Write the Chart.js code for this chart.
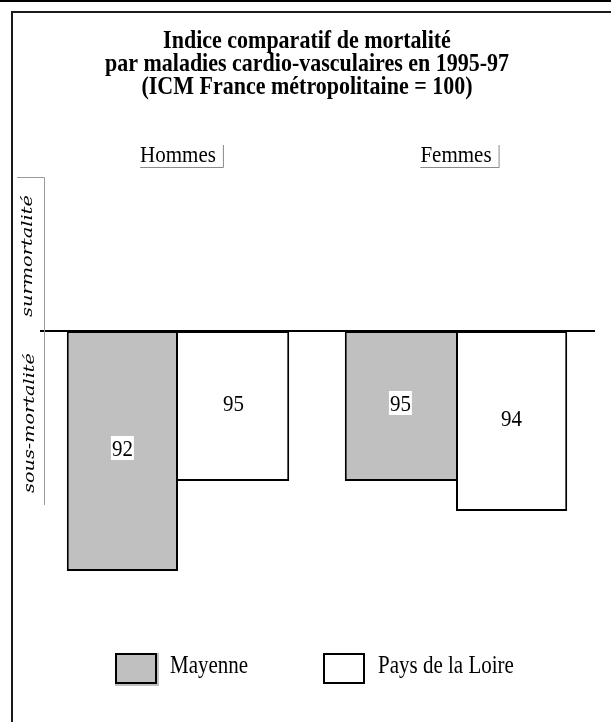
<!DOCTYPE html>
<html><head><meta charset="utf-8">
<script src="https://cdn.jsdelivr.net/npm/chart.js@4.4.0/dist/chart.umd.min.js"></script>
<style>html,body{margin:0;padding:0;background:#fff;}canvas{display:block;}</style>
</head><body>
<canvas id="c" width="611" height="722"></canvas>
<script>
const categories = ['Hommes', 'Femmes'];
const seriesNames = ['Mayenne', 'Pays de la Loire'];
const mayenne = [92, 95];
const paysDeLaLoire = [95, 94];
const reference = 100;
const titleLines = ['Indice comparatif de mortalité', 'par maladies cardio-vasculaires en 1995-97', '(ICM France métropolitaine = 100)'];
const zoneLabels = ['surmortalité', 'sous-mortalité'];

const SERIF = '"Liberation Serif", "Times New Roman", serif';
const seriesFill = ['#c0c0c0', '#ffffff'];

function sText(ctx, text, x, y, font, sy, align, base) {
  ctx.save();
  ctx.translate(x, y);
  ctx.scale(1, sy);
  ctx.font = font;
  ctx.textAlign = align;
  ctx.textBaseline = base;
  ctx.fillStyle = '#000';
  ctx.fillText(text, 0, 0);
  ctx.restore();
}

const decor = {
  id: 'decor',
  beforeDraw(chart) {
    const ctx = chart.ctx;
    ctx.save();
    ctx.fillStyle = '#fff';
    ctx.fillRect(0, 0, chart.width, chart.height);
    ctx.fillStyle = '#000';
    ctx.fillRect(0, 0, chart.width, 2);
    ctx.fillStyle = '#1a1a1a';
    ctx.fillRect(11, 11, chart.width - 11, 2);
    ctx.fillRect(11, 11, 2, chart.height - 11);
    ctx.restore();
  },
  afterDatasetsDraw(chart) {
    const ctx = chart.ctx;
    const x = chart.scales.x, y = chart.scales.y;
    const ca = chart.chartArea;
    const y100 = y.getPixelForValue(reference);
    ctx.save();
    // baseline
    ctx.strokeStyle = '#000';
    ctx.lineWidth = 2;
    ctx.beginPath();
    ctx.moveTo(ca.left + 1, y100);
    ctx.lineTo(ca.right, y100);
    ctx.stroke();
    // value labels
    chart.data.datasets.forEach((ds, di) => {
      const meta = chart.getDatasetMeta(di);
      meta.data.forEach((bar, i) => {
        const v = di === 0 ? mayenne[i] : paysDeLaLoire[i];
        const cy = (bar.y + bar.base) / 2 - 3;
        ctx.font = '21px ' + SERIF;
        const w = ctx.measureText(String(v)).width;
        ctx.fillStyle = '#fff';
        ctx.fillRect(bar.x - w / 2 - 1, cy - 12, w + 2, 24);
        sText(ctx, String(v), bar.x, cy + 7.5, '21px ' + SERIF, 1.1, 'center', 'alphabetic');
      });
    });
    // left bracket
    ctx.strokeStyle = '#9a9a9a';
    ctx.lineWidth = 1;
    ctx.beginPath();
    ctx.moveTo(17, 177.5);
    ctx.lineTo(44.5, 177.5);
    ctx.lineTo(44.5, 505);
    ctx.stroke();
    // zone labels rotated
    const zones = [{t: zoneLabels[0], cx: 28.5, cy: 256, len: 122}, {t: zoneLabels[1], cx: 30, cy: 423, len: 140}];
    zones.forEach(z => {
      ctx.save();
      ctx.translate(z.cx, z.cy);
      ctx.rotate(-Math.PI / 2);
      ctx.font = 'italic 14px "DejaVu Serif", serif';
      const w = ctx.measureText(z.t).width;
      ctx.scale(z.len / w, 1);
      ctx.fillStyle = '#000';
      ctx.textAlign = 'center';
      ctx.textBaseline = 'middle';
      ctx.fillText(z.t, 0, 0);
      ctx.restore();
    });
    // category labels
    categories.forEach((c, i) => {
      const cx = x.getPixelForValue(i);
      ctx.font = '21px ' + SERIF;
      const w = ctx.measureText(c).width;
      sText(ctx, c, cx, 162, '21px ' + SERIF, 1.12, 'center', 'alphabetic');
      ctx.strokeStyle = '#8a8a8a';
      ctx.lineWidth = 1;
      ctx.beginPath();
      ctx.moveTo(cx - w / 2, 167.5);
      ctx.lineTo(cx + w / 2 + 7.5, 167.5);
      ctx.lineTo(cx + w / 2 + 7.5, 145);
      ctx.stroke();
    });
    // legend
    const lx = [115, 323];
    seriesNames.forEach((n, i) => {
      ctx.fillStyle = seriesFill[i];
      ctx.fillRect(lx[i], 653, 44, 33);
      ctx.strokeStyle = '#000';
      ctx.lineWidth = 2;
      ctx.strokeRect(lx[i] + 1, 654, 40, 29);
      sText(ctx, n, lx[i] + 55, 673, '21px ' + SERIF, 1.15, 'left', 'alphabetic');
    });
    // title
    const tb = [48, 71, 94];
    titleLines.forEach((t, i) => {
      sText(ctx, t, 307, tb[i], 'bold 22px ' + SERIF, 1.12, 'center', 'alphabetic');
    });
    ctx.restore();
  }
};

new Chart(document.getElementById('c'), {
  type: 'bar',
  data: {
    labels: categories,
    datasets: [
      {
        label: seriesNames[0],
        data: mayenne.map(v => [v, reference]),
        backgroundColor: seriesFill[0],
        borderColor: '#000',
        borderSkipped: false,
        borderWidth: ctx => ({top: 2, bottom: 2, left: 2, right: mayenne[ctx.dataIndex] <= paysDeLaLoire[ctx.dataIndex] ? 2 : 0})
      },
      {
        label: seriesNames[1],
        data: paysDeLaLoire.map(v => [v, reference]),
        backgroundColor: seriesFill[1],
        borderColor: '#000',
        borderSkipped: false,
        borderWidth: ctx => ({top: 2, bottom: 2, right: 2, left: paysDeLaLoire[ctx.dataIndex] < mayenne[ctx.dataIndex] ? 2 : 0})
      }
    ]
  },
  options: {
    responsive: false,
    animation: false,
    devicePixelRatio: 1,
    layout: {padding: {left: 39, right: 16, top: 181, bottom: 91}},
    datasets: {bar: {categoryPercentage: 0.8, barPercentage: 1.0, inflateAmount: 0}},
    plugins: {legend: {display: false}, title: {display: false}, tooltip: {enabled: false}},
    scales: {
      x: {display: false},
      y: {display: false, min: 90, max: 105}
    }
  },
  plugins: [decor]
});
</script>
</body></html>
